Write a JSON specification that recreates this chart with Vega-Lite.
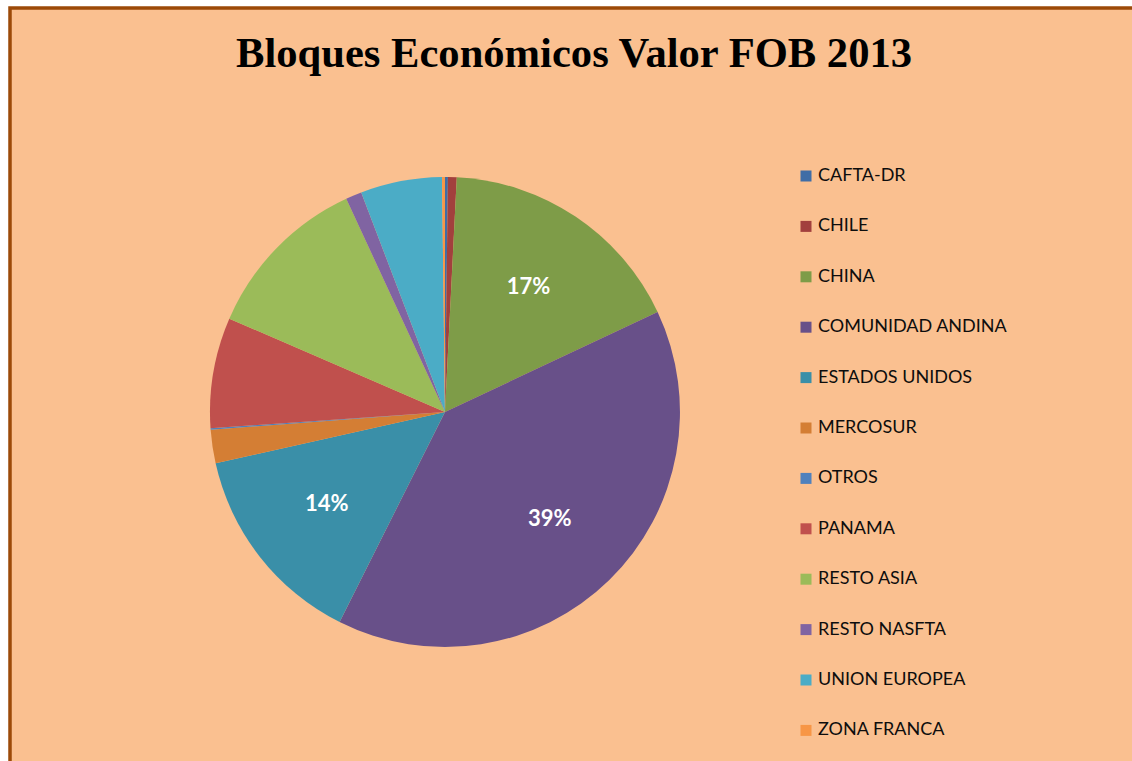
{
  "$schema": "https://vega.github.io/schema/vega-lite/v6.json",
  "width": 1126,
  "height": 758,
  "autosize": {"type": "none"},
  "padding": {"left": 10, "top": 8, "right": 0, "bottom": 0},
  "background": "#FFFFFF",
  "view": {"fill": "#FAC090", "stroke": "#9C4A08", "strokeWidth": 3.5},
  "title": {
    "text": "Bloques Económicos Valor FOB 2013",
    "font": "Liberation Serif",
    "fontSize": 42.6,
    "fontWeight": "bold",
    "color": "#000000",
    "anchor": "middle",
    "frame": "group",
    "offset": -68,
    "dx": 1
  },
  "data": {
    "values": [
      {"bloque": "CAFTA-DR", "participacion": 0.002},
      {"bloque": "CHILE", "participacion": 0.006},
      {"bloque": "CHINA", "participacion": 0.172},
      {"bloque": "COMUNIDAD ANDINA", "participacion": 0.394},
      {"bloque": "ESTADOS UNIDOS", "participacion": 0.141},
      {"bloque": "MERCOSUR", "participacion": 0.023},
      {"bloque": "OTROS", "participacion": 0.001},
      {"bloque": "PANAMA", "participacion": 0.076},
      {"bloque": "RESTO ASIA", "participacion": 0.116},
      {"bloque": "RESTO NASFTA", "participacion": 0.011},
      {"bloque": "UNION EUROPEA", "participacion": 0.056},
      {"bloque": "ZONA FRANCA", "participacion": 0.002}
    ]
  },
  "encoding": {
    "theta": {"field": "participacion", "type": "quantitative", "stack": true},
    "order": {"field": "bloque", "type": "ordinal", "sort": "ascending"},
    "color": {
      "field": "bloque",
      "type": "nominal",
      "scale": {
        "domain": ["CAFTA-DR", "CHILE", "CHINA", "COMUNIDAD ANDINA", "ESTADOS UNIDOS", "MERCOSUR", "OTROS", "PANAMA", "RESTO ASIA", "RESTO NASFTA", "UNION EUROPEA", "ZONA FRANCA"],
        "range": ["#3F6DA6", "#A2403D", "#7E9C48", "#685089", "#3A8FA8", "#D47E34", "#4F81BD", "#C0504D", "#9BBB59", "#8064A2", "#4BACC6", "#F79646"]
      },
      "legend": {
        "title": null,
        "orient": "none",
        "legendX": 787,
        "legendY": 159,
        "symbolType": "square",
        "symbolSize": 121,
        "symbolStrokeWidth": 0,
        "symbolOpacity": 1,
        "labelFont": "Lato",
        "labelFontSize": 18,
        "labelColor": "#0D0D0D",
        "labelLimit": 400,
        "labelOffset": 3,
        "rowPadding": 32.4,
        "padding": 0
      }
    }
  },
  "layer": [
    {
      "mark": {"type": "arc", "outerRadius": 235, "x": {"expr": "width * 0.3863"}, "y": {"expr": "height * 0.533"}, "stroke": null}
    },
    {
      "mark": {"type": "text", "radius": 150, "x": {"expr": "width * 0.3863"}, "y": {"expr": "height * 0.533"}, "font": "Lato", "fontSize": 22, "fontWeight": "bold"},
      "encoding": {
        "text": {
          "condition": {"test": "datum.participacion >= 0.13", "field": "participacion", "type": "quantitative", "format": ".0%"},
          "value": ""
        },
        "color": {"value": "#FFFFFF"}
      }
    }
  ]
}
